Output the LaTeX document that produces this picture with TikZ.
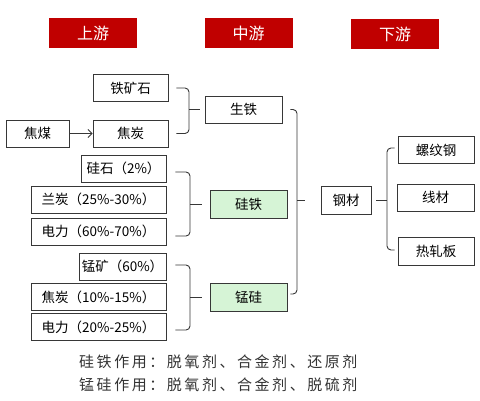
\documentclass[tikz,border=0pt]{standalone}
\usepackage{fontspec}
\setmainfont{Noto Sans CJK SC}
\newfontfamily\notefont[LetterSpace=17]{Noto Sans CJK SC}
\usetikzlibrary{arrows.meta}

\definecolor{headred}{RGB}{192,0,0}
\definecolor{boxgreen}{RGB}{214,244,214}
\definecolor{boxline}{RGB}{55,55,55}

\begin{document}
\begin{tikzpicture}[x=1pt, y=-1pt,
	head/.style={fill=headred, text=white, minimum width=88pt, minimum height=30pt, inner sep=0pt, font=\fontsize{16}{16}\selectfont},
	item/.style={draw=boxline, line width=0.9pt, fill=white, minimum height=27pt, inner sep=0pt, font=\fontsize{13.5}{13.5}\selectfont},
	mid/.style={item, fill=boxgreen, minimum width=77pt, minimum height=28pt},
	brace/.style={draw=boxline, line width=0.9pt, rounded corners=4pt},
	link/.style={draw=boxline, line width=0.9pt},
	note/.style={anchor=west, text=black!80, inner sep=0pt, font=\notefont\fontsize{15}{15}\selectfont}
]

	\useasboundingbox (0,0) rectangle (480,400);

	% Header bars
	\node[head] (up) at (93,33) {上游};
	\node[head] (md) at (248.5,33) {中游};
	\node[head] (dn) at (395,34) {下游};

	% Pig iron inputs
	\node[item, minimum width=75pt] (ore) at (130.5,88) {铁矿石};
	\node[item, minimum width=63pt] (coal) at (37.5,133.5) {焦煤};
	\node[item, minimum width=75pt] (coke) at (130.5,133.5) {焦炭};
	\draw[link, -{Straight Barb[length=4pt]}] (coal) -- (coke);

	\node[item, minimum width=77pt] (pig) at (243.5,109.5) {生铁};
	\coordinate (bpig) at (189,109.5);
	\draw[brace] ([xshift=8pt]ore.east) -| (bpig) |- ([xshift=8pt]coke.east);
	\draw[link] (bpig) -- ([xshift=-5pt]pig.west);

	% Ferrosilicon inputs
	\node[item, minimum width=85pt] (quartz) at (123.5,168.5) {硅石（2\%）};
	\node[item, minimum width=135pt] (semi) at (98.5,199.5) {兰炭（25\%-30\%）};
	\node[item, minimum width=135pt] (powa) at (98.5,231.5) {电力（60\%-70\%）};

	\node[mid] (fesi) at (248.5,204) {硅铁};
	\coordinate (bfesi) at (190,204);
	\draw[brace] ([xshift=9pt,yshift=-3.5pt]quartz.east) -| (bfesi) |- ([xshift=9pt,yshift=-4.5pt]powa.east);
	\draw[link] (bfesi) -- ([xshift=-8pt]fesi.west);

	% Silicomanganese inputs
	\node[item, minimum width=87pt] (mnore) at (122.5,266.5) {锰矿（60\%）};
	\node[item, minimum width=135pt] (coke2) at (98.5,297) {焦炭（10\%-15\%）};
	\node[item, minimum width=135pt] (powb) at (98.5,327) {电力（20\%-25\%）};

	\node[mid] (mnsi) at (248.5,297) {锰硅};
	\coordinate (bmnsi) at (190,297);
	\draw[brace] ([xshift=9pt,yshift=1.5pt]mnore.east) -| (bmnsi) |- ([xshift=9pt,yshift=-3pt]powb.east);
	\draw[link] (bmnsi) -- ([xshift=-8pt]mnsi.west);

	% Midstream to steel
	\node[item, minimum width=50pt, minimum height=28pt] (steel) at (346,200) {钢材};
	\coordinate (bmid) at (297,200);
	\draw[brace] ([xshift=8pt]pig.east) -| (bmid) |- ([xshift=3pt,yshift=3pt]mnsi.east);
	\draw[link] (bmid) -- ([xshift=-16pt]steel.west);

	% Downstream products
	\node[item, minimum width=76pt] (rebar) at (436,150) {螺纹钢};
	\node[item, minimum width=77pt] (wire) at (435.5,197.5) {线材};
	\node[item, minimum width=76pt, minimum height=28pt] (plate) at (436,251.5) {热轧板};
	\coordinate (bsteel) at (387,200);
	\draw[link] ([xshift=5pt]steel.east) -- (bsteel);
	\draw[brace] ([xshift=-3pt,yshift=2pt]rebar.west) -| (bsteel) |- ([xshift=-3pt,yshift=1.5pt]plate.west);

	% Notes
	\node[note] (note1) at (79,362) {硅铁作用：脱氧剂、合金剂、还原剂};
	\node[note] (note2) at (79,385) {锰硅作用：脱氧剂、合金剂、脱硫剂};

\end{tikzpicture}
\end{document}
